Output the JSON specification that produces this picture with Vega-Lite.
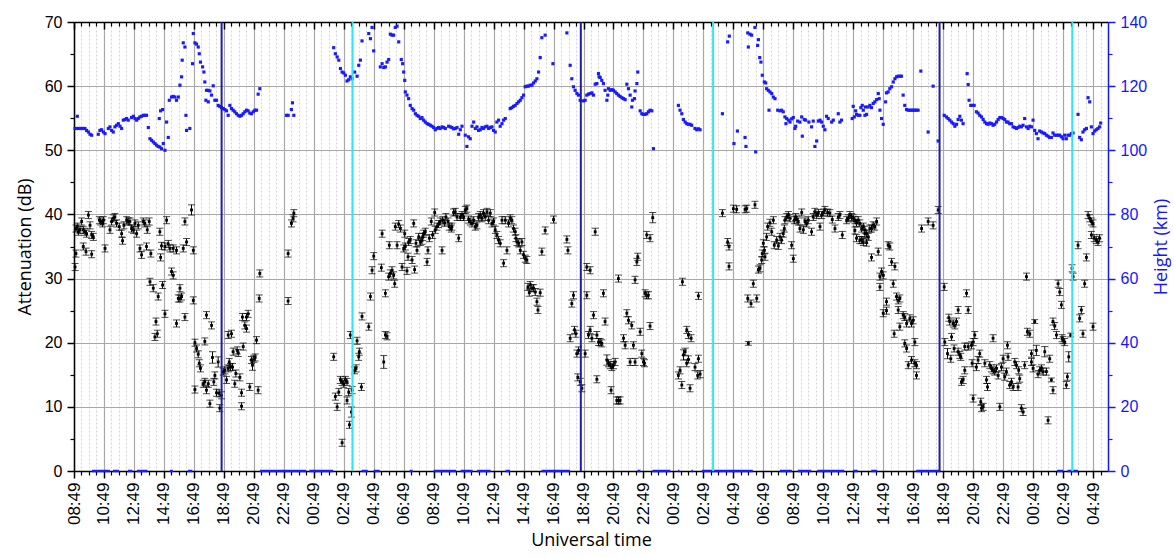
{
  "$schema": "https://vega.github.io/schema/vega-lite/v6.json",
  "width": 1034,
  "height": 449,
  "autosize": {"type": "none"},
  "padding": {"left": 74, "top": 22, "right": 66, "bottom": 87},
  "background": "white",
  "config": {"view": {"stroke": null}},
  "datasets": {
    "height": [
      {"t":0.07,"h":106.8},{"t":0.18,"h":106.8},{"t":0.22,"h":110.6},{"t":0.29,"h":106.8},{"t":0.4,"h":106.8},{"t":0.51,"h":106.8},{"t":0.62,"h":106.8},{"t":0.73,"h":106.8},{"t":0.84,"h":106.2},{"t":0.96,"h":105.7},{"t":1.07,"h":105.0},{"t":1.18,"h":104.7},{"t":1.62,"h":105.0},{"t":1.73,"h":106.2},{"t":1.84,"h":106.4},{"t":1.96,"h":105.7},{"t":2.07,"h":105.2},{"t":2.29,"h":106.8},{"t":2.4,"h":107.3},{"t":2.51,"h":106.2},{"t":2.62,"h":105.7},{"t":2.73,"h":107.3},{"t":2.84,"h":107.8},{"t":2.96,"h":108.3},{"t":3.07,"h":107.5},{"t":3.18,"h":106.8},{"t":3.29,"h":109.4},{"t":3.4,"h":109.6},{"t":3.51,"h":109.9},{"t":3.62,"h":109.4},{"t":3.84,"h":110.2},{"t":3.96,"h":110.6},{"t":4.07,"h":109.9},{"t":4.18,"h":109.4},{"t":4.29,"h":109.9},{"t":4.4,"h":110.4},{"t":4.51,"h":110.6},{"t":4.62,"h":110.9},{"t":4.73,"h":110.9},{"t":4.84,"h":110.9},{"t":4.96,"h":107.1},{"t":5.07,"h":103.6},{"t":5.18,"h":103.1},{"t":5.29,"h":102.6},{"t":5.4,"h":102.1},{"t":5.51,"h":101.6},{"t":5.62,"h":101.2},{"t":5.73,"h":101.0},{"t":5.84,"h":100.5},{"t":5.96,"h":102.1},{"t":6.07,"h":100.0},{"t":6.29,"h":104.0},{"t":5.69,"h":109.9},{"t":5.78,"h":112.3},{"t":5.91,"h":112.7},{"t":6.18,"h":108.8},{"t":6.36,"h":115.6},{"t":6.51,"h":116.6},{"t":6.62,"h":116.8},{"t":6.73,"h":116.6},{"t":6.84,"h":115.6},{"t":6.96,"h":116.6},{"t":7.07,"h":120.3},{"t":7.18,"h":122.9},{"t":7.22,"h":128.1},{"t":7.29,"h":133.5},{"t":7.4,"h":132.2},{"t":7.47,"h":110.9},{"t":7.51,"h":106.2},{"t":7.73,"h":106.8},{"t":7.91,"h":127.0},{"t":7.96,"h":136.4},{"t":8.07,"h":133.5},{"t":8.18,"h":133.1},{"t":8.29,"h":132.2},{"t":8.36,"h":130.1},{"t":8.44,"h":127.5},{"t":8.58,"h":126.0},{"t":8.67,"h":124.4},{"t":8.73,"h":121.3},{"t":8.84,"h":118.7},{"t":8.96,"h":118.7},{"t":9.07,"h":118.5},{"t":9.18,"h":117.2},{"t":9.29,"h":120.1},{"t":8.8,"h":115.6},{"t":8.96,"h":115.1},{"t":9.4,"h":115.6},{"t":9.51,"h":115.6},{"t":9.62,"h":114.0},{"t":9.73,"h":113.7},{"t":9.84,"h":113.3},{"t":9.96,"h":113.0},{"t":10.07,"h":112.7},{"t":10.18,"h":112.3},{"t":10.29,"h":110.9},{"t":10.4,"h":114.0},{"t":10.51,"h":113.0},{"t":10.62,"h":112.5},{"t":10.73,"h":112.0},{"t":10.84,"h":111.4},{"t":10.96,"h":110.9},{"t":11.07,"h":110.6},{"t":11.18,"h":110.9},{"t":11.29,"h":111.4},{"t":11.4,"h":112.0},{"t":11.51,"h":112.5},{"t":11.62,"h":112.3},{"t":11.73,"h":111.6},{"t":11.84,"h":111.4},{"t":11.96,"h":112.0},{"t":12.07,"h":112.5},{"t":12.18,"h":112.5},{"t":12.29,"h":117.5},{"t":12.4,"h":119.2},{"t":14.18,"h":110.9},{"t":14.29,"h":110.9},{"t":14.51,"h":112.7},{"t":14.58,"h":114.8},{"t":14.67,"h":110.9},
      {"t":17.33,"h":132.0},{"t":17.44,"h":130.1},{"t":17.56,"h":129.1},{"t":17.67,"h":128.1},{"t":17.78,"h":125.5},{"t":17.89,"h":124.4},{"t":18.0,"h":124.1},{"t":18.11,"h":123.4},{"t":18.22,"h":121.6},{"t":18.33,"h":122.0},{"t":18.44,"h":122.9},{"t":18.56,"h":122.3},{"t":18.73,"h":124.4},{"t":18.89,"h":123.1},{"t":19.0,"h":126.5},{"t":19.11,"h":128.1},{"t":19.22,"h":134.1},{"t":19.67,"h":136.4},{"t":19.78,"h":134.8},{"t":19.89,"h":138.3},{"t":20.0,"h":131.0},{"t":20.44,"h":126.0},{"t":20.56,"h":127.0},{"t":20.67,"h":125.8},{"t":20.78,"h":126.0},{"t":20.89,"h":127.5},{"t":21.0,"h":128.3},{"t":21.11,"h":136.2},{"t":21.22,"h":135.9},{"t":21.33,"h":135.9},{"t":21.44,"h":138.3},{"t":21.56,"h":138.7},{"t":21.67,"h":133.8},{"t":21.84,"h":128.3},{"t":21.93,"h":127.0},{"t":22.0,"h":124.4},{"t":22.07,"h":121.8},{"t":22.11,"h":118.2},{"t":22.22,"h":117.2},{"t":22.33,"h":116.1},{"t":22.44,"h":114.0},{"t":22.56,"h":113.0},{"t":22.67,"h":112.5},{"t":22.78,"h":111.4},{"t":22.89,"h":110.9},{"t":23.0,"h":110.6},{"t":23.11,"h":109.9},{"t":23.22,"h":110.2},{"t":23.33,"h":109.4},{"t":23.44,"h":108.8},{"t":23.56,"h":108.3},{"t":23.67,"h":108.1},{"t":23.78,"h":107.8},{"t":23.89,"h":107.5},{"t":24.0,"h":107.1},{"t":24.11,"h":106.4},{"t":24.22,"h":106.8},{"t":24.33,"h":107.1},{"t":24.44,"h":106.8},{"t":24.56,"h":107.3},{"t":24.67,"h":107.1},{"t":24.78,"h":106.8},{"t":25.0,"h":107.5},{"t":25.11,"h":107.3},{"t":25.22,"h":107.1},{"t":25.33,"h":106.7},{"t":25.44,"h":106.8},{"t":25.56,"h":107.1},{"t":25.67,"h":105.0},{"t":25.78,"h":106.4},{"t":25.89,"h":107.5},{"t":26.11,"h":104.7},{"t":26.22,"h":101.2},{"t":26.33,"h":104.2},{"t":26.44,"h":103.6},{"t":26.56,"h":107.5},{"t":26.67,"h":108.8},{"t":26.78,"h":106.8},{"t":26.89,"h":107.3},{"t":27.0,"h":106.2},{"t":27.11,"h":106.4},{"t":27.22,"h":107.1},{"t":27.33,"h":106.8},{"t":27.44,"h":107.3},{"t":27.56,"h":107.5},{"t":27.67,"h":106.8},{"t":27.78,"h":107.1},{"t":27.89,"h":107.3},{"t":28.0,"h":106.2},{"t":28.11,"h":105.7},{"t":28.22,"h":108.8},{"t":28.33,"h":109.4},{"t":28.44,"h":107.5},{"t":28.56,"h":108.3},{"t":28.67,"h":109.4},{"t":28.78,"h":109.9},{"t":29.11,"h":113.0},{"t":29.22,"h":113.3},{"t":29.33,"h":113.7},{"t":29.44,"h":114.0},{"t":29.56,"h":114.6},{"t":29.67,"h":115.1},{"t":29.78,"h":115.6},{"t":29.89,"h":116.4},{"t":30.0,"h":117.2},{"t":30.11,"h":119.8},{"t":30.22,"h":120.0},{"t":30.33,"h":120.0},{"t":30.44,"h":120.3},{"t":30.56,"h":120.3},{"t":30.67,"h":121.0},{"t":30.78,"h":121.6},{"t":30.89,"h":122.3},{"t":31.0,"h":124.4},{"t":31.11,"h":128.9},{"t":31.22,"h":135.1},{"t":31.44,"h":135.9},{"t":31.96,"h":127.0},{"t":32.89,"h":136.6},{"t":33.11,"h":126.5},{"t":33.22,"h":122.3},{"t":33.33,"h":119.8},{"t":33.44,"h":118.7},{"t":33.56,"h":117.7},{"t":33.67,"h":117.2},{"t":33.78,"h":115.6},{"t":34.0,"h":115.4},{"t":34.22,"h":117.2},
      {"t":34.11,"h":115.6},{"t":34.33,"h":117.5},{"t":34.44,"h":117.7},{"t":34.56,"h":117.9},{"t":34.67,"h":117.2},{"t":34.78,"h":120.6},{"t":34.89,"h":120.8},{"t":35.0,"h":123.9},{"t":35.04,"h":122.9},{"t":35.11,"h":122.7},{"t":35.22,"h":121.8},{"t":35.33,"h":120.8},{"t":35.44,"h":118.7},{"t":35.56,"h":115.6},{"t":35.62,"h":117.2},{"t":35.67,"h":119.2},{"t":35.78,"h":118.7},{"t":35.89,"h":118.9},{"t":36.0,"h":118.7},{"t":36.11,"h":118.2},{"t":36.22,"h":117.7},{"t":36.33,"h":117.2},{"t":36.44,"h":116.8},{"t":36.56,"h":116.4},{"t":36.67,"h":116.1},{"t":36.78,"h":115.8},{"t":36.89,"h":120.6},{"t":37.0,"h":119.2},{"t":37.11,"h":117.2},{"t":37.22,"h":113.5},{"t":37.27,"h":115.6},{"t":37.4,"h":116.1},{"t":37.44,"h":118.5},{"t":37.56,"h":120.8},{"t":37.62,"h":124.4},{"t":37.78,"h":112.3},{"t":37.89,"h":111.4},{"t":38.0,"h":111.2},{"t":38.11,"h":111.2},{"t":38.22,"h":111.4},{"t":38.33,"h":112.0},{"t":38.44,"h":112.5},{"t":38.56,"h":112.3},{"t":38.67,"h":100.5},{"t":40.33,"h":114.0},{"t":40.44,"h":112.5},{"t":40.56,"h":111.4},{"t":40.67,"h":109.6},{"t":40.78,"h":108.8},{"t":40.89,"h":108.3},{"t":41.0,"h":108.1},{"t":41.11,"h":108.1},{"t":41.22,"h":107.8},{"t":41.44,"h":106.8},{"t":41.56,"h":106.4},{"t":41.67,"h":106.7},{"t":41.78,"h":106.4},{"t":43.27,"h":111.4},{"t":43.62,"h":133.8},{"t":43.73,"h":135.6},{"t":44.04,"h":102.1},{"t":44.27,"h":106.0},{"t":44.78,"h":104.0},{"t":44.84,"h":101.2},{"t":44.96,"h":136.6},{"t":45.0,"h":132.2},{"t":45.11,"h":136.2},{"t":45.22,"h":135.9},{"t":45.44,"h":138.3},{"t":45.49,"h":99.5},{"t":45.62,"h":132.7},{"t":45.67,"h":134.5},{"t":45.76,"h":128.9},{"t":45.84,"h":127.5},{"t":45.93,"h":123.4},{"t":46.07,"h":121.3},{"t":46.16,"h":121.0},{"t":46.22,"h":119.2},{"t":46.33,"h":118.7},{"t":46.44,"h":118.2},{"t":46.56,"h":117.7},{"t":46.67,"h":116.6},{"t":46.78,"h":116.1},{"t":46.38,"h":112.5},{"t":46.96,"h":112.5},{"t":47.11,"h":112.3},{"t":47.22,"h":112.5},{"t":47.33,"h":112.0},{"t":47.44,"h":110.4},{"t":47.51,"h":108.3},{"t":47.56,"h":109.9},{"t":47.67,"h":109.4},{"t":47.78,"h":108.8},{"t":47.89,"h":109.8},{"t":48.0,"h":110.2},{"t":48.11,"h":106.8},{"t":48.16,"h":107.5},{"t":48.29,"h":109.1},{"t":48.44,"h":108.8},{"t":48.56,"h":110.4},{"t":48.6,"h":104.4},{"t":48.73,"h":109.6},{"t":48.82,"h":109.4},{"t":49.04,"h":108.8},{"t":49.22,"h":107.3},{"t":49.33,"h":109.1},{"t":49.44,"h":101.2},{"t":49.56,"h":102.9},{"t":49.67,"h":109.1},{"t":49.78,"h":109.4},{"t":49.89,"h":108.8},{"t":50.0,"h":107.5},{"t":50.11,"h":106.4},{"t":50.22,"h":110.6},{"t":50.33,"h":109.9},{"t":50.56,"h":108.8},{"t":50.67,"h":109.4},{"t":51.0,"h":111.4},{"t":51.11,"h":108.8},{"t":51.22,"h":109.4},
      {"t":51.93,"h":109.9},{"t":52.0,"h":113.7},{"t":52.07,"h":110.4},{"t":52.16,"h":112.3},{"t":52.22,"h":111.2},{"t":52.33,"h":110.9},{"t":52.44,"h":110.9},{"t":52.51,"h":113.3},{"t":52.6,"h":114.0},{"t":52.67,"h":112.5},{"t":52.78,"h":110.9},{"t":52.82,"h":113.5},{"t":52.89,"h":111.2},{"t":53.0,"h":113.5},{"t":53.11,"h":114.0},{"t":53.22,"h":113.3},{"t":53.33,"h":114.6},{"t":53.44,"h":115.1},{"t":53.56,"h":115.8},{"t":53.67,"h":117.7},{"t":53.73,"h":116.1},{"t":53.78,"h":112.5},{"t":53.89,"h":109.9},{"t":54.0,"h":108.1},{"t":54.16,"h":115.1},{"t":54.22,"h":117.9},{"t":54.33,"h":118.2},{"t":54.44,"h":119.2},{"t":54.56,"h":119.8},{"t":54.67,"h":121.3},{"t":54.78,"h":122.3},{"t":54.89,"h":122.9},{"t":55.0,"h":123.1},{"t":55.11,"h":123.1},{"t":55.22,"h":123.1},{"t":55.33,"h":117.2},{"t":55.44,"h":114.0},{"t":55.56,"h":112.7},{"t":55.67,"h":112.5},{"t":55.78,"h":112.5},{"t":55.89,"h":112.5},{"t":56.0,"h":112.5},{"t":56.11,"h":112.5},{"t":56.22,"h":112.5},{"t":56.33,"h":112.5},{"t":56.51,"h":124.7},{"t":57.0,"h":105.7},{"t":57.33,"h":120.0},{"t":57.67,"h":102.9},{"t":58.07,"h":110.9},{"t":58.22,"h":110.4},{"t":58.33,"h":109.9},{"t":58.44,"h":109.4},{"t":58.56,"h":108.8},{"t":58.67,"h":108.3},{"t":58.78,"h":107.5},{"t":58.89,"h":108.1},{"t":59.0,"h":109.6},{"t":59.11,"h":110.6},{"t":59.22,"h":109.4},{"t":59.33,"h":108.3},{"t":59.6,"h":123.9},{"t":59.67,"h":120.5},{"t":59.73,"h":115.6},{"t":59.84,"h":114.0},{"t":59.93,"h":114.0},{"t":60.07,"h":114.0},{"t":60.22,"h":112.0},{"t":60.33,"h":111.6},{"t":60.44,"h":110.9},{"t":60.56,"h":110.4},{"t":60.67,"h":109.6},{"t":60.78,"h":108.8},{"t":60.89,"h":108.3},{"t":61.0,"h":108.1},{"t":61.11,"h":108.5},{"t":61.22,"h":108.3},{"t":61.33,"h":107.8},{"t":61.44,"h":108.1},{"t":61.56,"h":108.8},{"t":61.67,"h":109.6},{"t":61.78,"h":110.2},{"t":61.89,"h":110.2},{"t":62.0,"h":109.9},{"t":62.11,"h":109.6},{"t":62.22,"h":108.8},{"t":62.33,"h":108.8},{"t":62.44,"h":108.3},{"t":62.56,"h":108.3},{"t":62.67,"h":107.3},{"t":62.78,"h":107.1},{"t":62.89,"h":106.8},{"t":63.0,"h":107.1},{"t":63.11,"h":107.5},{"t":63.22,"h":107.3},{"t":63.33,"h":107.8},{"t":63.44,"h":109.9},{"t":63.56,"h":107.3},{"t":63.67,"h":106.8},{"t":63.78,"h":107.5},{"t":63.89,"h":107.3},{"t":64.0,"h":109.4},{"t":64.11,"h":106.2},{"t":64.22,"h":105.2},{"t":64.33,"h":103.6},{"t":64.44,"h":106.0},{"t":64.56,"h":105.7},{"t":64.67,"h":105.4},{"t":64.78,"h":105.2},{"t":64.89,"h":104.7},{"t":65.0,"h":104.4},{"t":65.11,"h":104.0},{"t":65.22,"h":104.0},{"t":65.33,"h":105.4},{"t":65.44,"h":104.7},{"t":65.56,"h":104.7},{"t":65.67,"h":104.7},{"t":65.78,"h":104.7},{"t":65.89,"h":104.2},{"t":66.0,"h":103.6},{"t":66.11,"h":104.7},{"t":66.22,"h":103.6},{"t":66.33,"h":104.7},{"t":66.44,"h":104.7},{"t":66.56,"h":105.2},{"t":66.67,"h":105.4},{"t":67.0,"h":111.2},{"t":67.11,"h":104.0},{"t":67.22,"h":103.3},{"t":67.33,"h":105.7},{"t":67.44,"h":106.4},{"t":67.56,"h":106.8},{"t":67.67,"h":116.4},{"t":67.78,"h":115.1},{"t":67.89,"h":107.3},{"t":68.0,"h":105.2},{"t":68.11,"h":106.0},{"t":68.22,"h":106.4},{"t":68.33,"h":106.8},{"t":68.44,"h":107.3},{"t":68.51,"h":108.5}
    ],
    "noEcho": [
      {"t0":1.2,"t1":2.4,"h":0},{"t0":2.6,"t1":3.0,"h":0},{"t0":3.6,"t1":3.9,"h":0},{"t0":4.2,"t1":4.9,"h":0},{"t0":6.4,"t1":6.6,"h":0},{"t0":7.6,"t1":7.9,"h":0},{"t0":12.4,"t1":15.5,"h":0},{"t0":15.7,"t1":17.3,"h":0},{"t0":19.2,"t1":19.6,"h":0},{"t0":20.0,"t1":20.4,"h":0},{"t0":22.4,"t1":22.6,"h":0},{"t0":24.0,"t1":25.5,"h":0},{"t0":25.8,"t1":26.6,"h":0},{"t0":26.9,"t1":27.8,"h":0},{"t0":28.8,"t1":29.1,"h":0},{"t0":31.2,"t1":33.1,"h":0},{"t0":37.6,"t1":37.8,"h":0},{"t0":38.6,"t1":39.8,"h":0},{"t0":40.3,"t1":40.4,"h":0},{"t0":41.2,"t1":41.3,"h":0},{"t0":41.9,"t1":45.3,"h":0},{"t0":47.1,"t1":47.9,"h":0},{"t0":48.3,"t1":49.2,"h":0},{"t0":49.6,"t1":51.4,"h":0},{"t0":52.0,"t1":52.3,"h":0},{"t0":53.2,"t1":53.6,"h":0},{"t0":56.2,"t1":57.8,"h":0},{"t0":65.6,"t1":66.0,"h":0},{"t0":66.3,"t1":67.0,"h":0}
    ],
    "marks": [
      {"t":9.85,"kind":"dark"},{"t":33.82,"kind":"dark"},{"t":57.76,"kind":"dark"},
      {"t":18.59,"kind":"light"},{"t":42.65,"kind":"light"},{"t":66.62,"kind":"light"}
    ],
    "atten": [
      {"t":0.13,"a":37.8,"e":0.55},{"t":0.22,"a":38.1,"e":0.55},{"t":0.29,"a":37.3,"e":0.55},{"t":0.4,"a":37.6,"e":0.55},{"t":0.51,"a":38.9,"e":0.55},{"t":0.62,"a":37.6,"e":0.55},{"t":0.73,"a":37.3,"e":0.55},{"t":0.84,"a":37.0,"e":0.55},{"t":0.96,"a":39.9,"e":0.55},{"t":1.07,"a":38.3,"e":0.55},{"t":1.18,"a":36.8,"e":0.55},{"t":1.29,"a":36.5,"e":0.55},{"t":0.13,"a":33.9,"e":0.55},{"t":0.62,"a":35.0,"e":0.55},{"t":0.8,"a":34.2,"e":0.55},{"t":1.18,"a":33.8,"e":0.55},{"t":2.07,"a":34.7,"e":0.55},{"t":0.07,"a":31.8,"e":0.55},{"t":1.69,"a":39.1,"e":0.55},{"t":1.78,"a":38.9,"e":0.55},{"t":1.91,"a":38.6,"e":0.55},{"t":1.96,"a":39.1,"e":0.55},{"t":2.4,"a":37.6,"e":0.55},{"t":2.51,"a":38.9,"e":0.55},{"t":2.62,"a":39.4,"e":0.55},{"t":2.73,"a":39.6,"e":0.55},{"t":2.84,"a":38.6,"e":0.55},{"t":3.02,"a":38.1,"e":0.55},{"t":3.18,"a":37.0,"e":0.55},{"t":3.24,"a":35.9,"e":0.55},{"t":3.33,"a":38.3,"e":0.55},{"t":3.51,"a":39.1,"e":0.55},{"t":3.62,"a":38.9,"e":0.55},{"t":3.73,"a":38.9,"e":0.55},{"t":3.84,"a":37.8,"e":0.55},{"t":3.96,"a":37.6,"e":0.55},{"t":4.07,"a":38.6,"e":0.55},{"t":4.18,"a":37.0,"e":0.55},{"t":4.29,"a":38.3,"e":0.55},{"t":4.4,"a":34.7,"e":0.55},{"t":4.51,"a":33.7,"e":0.55},{"t":4.62,"a":38.9,"e":0.55},{"t":4.73,"a":38.6,"e":0.55},{"t":4.89,"a":37.6,"e":0.55},{"t":5.02,"a":38.9,"e":0.55},{"t":5.13,"a":33.9,"e":0.55},{"t":4.84,"a":35.0,"e":0.55},{"t":5.73,"a":37.3,"e":0.55},{"t":5.78,"a":33.3,"e":0.55},{"t":5.84,"a":35.1,"e":0.55},{"t":6.07,"a":35.0,"e":0.55},{"t":6.18,"a":39.1,"e":0.55},{"t":6.29,"a":35.4,"e":0.55},{"t":6.4,"a":34.7,"e":0.55},{"t":6.62,"a":34.7,"e":0.55},{"t":6.84,"a":34.4,"e":0.55},{"t":7.29,"a":34.7,"e":0.55},{"t":7.51,"a":35.7,"e":0.55},{"t":7.4,"a":38.9,"e":0.55},{"t":7.84,"a":40.7,"e":0.8},{"t":7.96,"a":34.4,"e":0.55},{"t":6.51,"a":31.1,"e":0.55},{"t":6.62,"a":30.5,"e":0.55},{"t":5.07,"a":29.5,"e":0.55},{"t":5.29,"a":28.5,"e":0.55},{"t":5.62,"a":27.2,"e":0.55},{"t":5.91,"a":29.0,"e":0.55},{"t":5.47,"a":23.3,"e":0.55},{"t":5.56,"a":21.4,"e":0.55},{"t":5.4,"a":20.9,"e":0.55},{"t":6.07,"a":24.5,"e":0.55},{"t":6.84,"a":23.0,"e":0.55},{"t":6.96,"a":26.9,"e":0.55},{"t":7.07,"a":26.9,"e":0.55},{"t":7.18,"a":27.2,"e":0.55},{"t":7.07,"a":28.5,"e":0.55},{"t":7.4,"a":24.0,"e":0.55},{"t":7.96,"a":26.6,"e":0.55},{"t":8.07,"a":20.0,"e":0.55},{"t":8.18,"a":19.1,"e":0.55},{"t":8.29,"a":18.2,"e":0.55},{"t":8.36,"a":16.8,"e":0.55},{"t":8.44,"a":16.0,"e":0.55},{"t":8.62,"a":13.6,"e":0.55},{"t":8.73,"a":13.9,"e":0.55},{"t":8.84,"a":12.6,"e":0.55},{"t":8.96,"a":13.6,"e":0.55},{"t":9.07,"a":10.5,"e":0.55},{"t":8.07,"a":12.7,"e":0.55},{"t":8.73,"a":20.2,"e":0.55},{"t":8.84,"a":24.3,"e":0.55},{"t":9.18,"a":22.7,"e":0.55},{"t":9.24,"a":17.7,"e":0.9},{"t":9.4,"a":14.9,"e":0.55},{"t":9.33,"a":13.9,"e":0.55},{"t":9.51,"a":12.2,"e":0.55},{"t":9.62,"a":17.0,"e":0.8},{"t":9.69,"a":12.1,"e":0.55},{"t":9.73,"a":9.8,"e":0.55},{"t":9.84,"a":11.8,"e":0.55},{"t":9.96,"a":15.5,"e":0.55},{"t":10.07,"a":15.7,"e":0.55},{"t":10.18,"a":14.2,"e":0.55},{"t":10.29,"a":16.0,"e":0.55},{"t":10.36,"a":17.0,"e":0.55},{"t":10.44,"a":16.2,"e":0.55},{"t":10.58,"a":16.2,"e":0.55},{"t":10.62,"a":18.6,"e":0.55},{"t":10.73,"a":13.6,"e":0.55},{"t":10.8,"a":15.2,"e":0.55},{"t":10.89,"a":18.8,"e":0.55},{"t":10.96,"a":18.4,"e":0.55},{"t":11.07,"a":14.6,"e":0.55},{"t":11.18,"a":12.2,"e":0.55},{"t":11.18,"a":10.1,"e":0.55},{"t":11.29,"a":19.4,"e":0.55},{"t":11.4,"a":22.7,"e":0.55},{"t":11.51,"a":22.2,"e":0.55},{"t":11.51,"a":24.0,"e":0.55},{"t":11.62,"a":24.5,"e":0.55},{"t":11.24,"a":24.0,"e":0.55},{"t":10.29,"a":21.2,"e":0.55},{"t":10.51,"a":21.4,"e":0.55},{"t":11.73,"a":13.1,"e":0.55},{"t":11.84,"a":17.3,"e":0.55},{"t":11.91,"a":16.5,"e":0.8},{"t":12.0,"a":17.5,"e":0.55},{"t":12.09,"a":17.7,"e":0.55},{"t":12.18,"a":20.4,"e":0.55},{"t":12.29,"a":12.6,"e":0.55},{"t":12.36,"a":26.9,"e":0.55},{"t":12.4,"a":30.8,"e":0.55},{"t":14.29,"a":33.9,"e":0.55},{"t":14.29,"a":26.5,"e":0.55},{"t":14.51,"a":38.6,"e":0.55},{"t":14.62,"a":39.4,"e":0.55},{"t":14.67,"a":40.2,"e":0.55},
      {"t":17.33,"a":17.8,"e":0.55},{"t":17.44,"a":11.6,"e":0.55},{"t":17.56,"a":10.0,"e":0.55},{"t":17.67,"a":12.3,"e":0.55},{"t":17.78,"a":14.2,"e":0.55},{"t":17.89,"a":13.9,"e":0.55},{"t":18.0,"a":13.6,"e":0.55},{"t":18.11,"a":14.2,"e":0.55},{"t":18.22,"a":13.9,"e":0.55},{"t":18.33,"a":12.3,"e":0.55},{"t":18.22,"a":11.0,"e":0.55},{"t":17.89,"a":4.4,"e":0.55},{"t":18.38,"a":7.2,"e":0.55},{"t":18.51,"a":9.2,"e":0.8},{"t":18.56,"a":12.6,"e":0.55},{"t":18.44,"a":21.2,"e":0.55},{"t":18.73,"a":15.7,"e":0.55},{"t":18.82,"a":16.0,"e":0.55},{"t":18.89,"a":20.3,"e":0.55},{"t":19.0,"a":17.8,"e":0.55},{"t":19.04,"a":18.6,"e":0.55},{"t":19.18,"a":13.1,"e":0.55},{"t":19.22,"a":24.1,"e":0.55},{"t":19.67,"a":22.5,"e":0.55},{"t":19.78,"a":27.2,"e":0.55},{"t":19.89,"a":31.3,"e":0.55},{"t":20.0,"a":33.5,"e":0.55},{"t":20.51,"a":31.7,"e":0.55},{"t":20.56,"a":37.0,"e":0.55},{"t":20.67,"a":17.0,"e":1.0},{"t":20.78,"a":27.7,"e":0.55},{"t":20.89,"a":21.0,"e":0.55},{"t":20.78,"a":21.2,"e":0.55},{"t":21.0,"a":30.3,"e":0.55},{"t":21.04,"a":35.2,"e":0.55},{"t":21.11,"a":30.8,"e":0.55},{"t":21.22,"a":31.3,"e":0.55},{"t":21.33,"a":30.5,"e":0.55},{"t":21.4,"a":29.2,"e":0.55},{"t":21.44,"a":38.1,"e":0.55},{"t":21.56,"a":35.2,"e":0.55},{"t":21.67,"a":38.5,"e":0.55},{"t":21.78,"a":37.8,"e":0.55},{"t":21.89,"a":31.8,"e":0.55},{"t":22.0,"a":34.7,"e":0.55},{"t":22.07,"a":37.0,"e":0.55},{"t":22.11,"a":35.0,"e":0.55},{"t":22.22,"a":31.2,"e":0.55},{"t":22.29,"a":33.4,"e":0.55},{"t":22.33,"a":35.7,"e":0.55},{"t":22.44,"a":36.0,"e":0.55},{"t":22.56,"a":32.9,"e":0.55},{"t":22.67,"a":38.6,"e":0.55},{"t":22.73,"a":31.4,"e":0.55},{"t":22.82,"a":35.5,"e":0.55},{"t":22.89,"a":34.4,"e":0.55},{"t":23.0,"a":36.5,"e":0.55},{"t":23.11,"a":35.7,"e":0.55},{"t":23.22,"a":35.9,"e":0.55},{"t":23.27,"a":36.5,"e":0.55},{"t":23.33,"a":37.0,"e":0.55},{"t":23.44,"a":37.3,"e":0.55},{"t":23.56,"a":32.6,"e":0.55},{"t":23.62,"a":34.4,"e":0.55},{"t":23.71,"a":36.3,"e":0.55},{"t":23.84,"a":38.9,"e":0.55},{"t":23.93,"a":36.8,"e":0.55},{"t":24.07,"a":40.3,"e":0.55},{"t":24.11,"a":37.6,"e":0.55},{"t":24.22,"a":38.1,"e":0.55},{"t":24.33,"a":38.5,"e":0.55},{"t":24.44,"a":38.9,"e":0.55},{"t":24.56,"a":34.4,"e":0.55},{"t":24.6,"a":39.1,"e":0.55},{"t":24.73,"a":38.7,"e":0.55},{"t":24.82,"a":39.6,"e":0.55},{"t":24.96,"a":38.9,"e":0.55},{"t":25.04,"a":38.1,"e":0.55},{"t":25.18,"a":37.8,"e":0.55},{"t":25.22,"a":38.1,"e":0.55},{"t":25.33,"a":40.3,"e":0.55},{"t":25.44,"a":40.4,"e":0.55},{"t":25.56,"a":39.6,"e":0.55},{"t":25.67,"a":36.3,"e":0.55},{"t":25.78,"a":39.6,"e":0.55},{"t":25.89,"a":39.9,"e":0.55},{"t":26.0,"a":39.6,"e":0.55},{"t":26.11,"a":40.7,"e":0.55},{"t":26.22,"a":40.9,"e":0.55},{"t":26.33,"a":39.2,"e":0.55},{"t":26.44,"a":38.9,"e":0.55},{"t":26.56,"a":38.6,"e":0.55},{"t":26.67,"a":39.1,"e":0.55},{"t":26.78,"a":38.1,"e":0.55},{"t":26.89,"a":38.3,"e":0.55},{"t":27.0,"a":39.6,"e":0.55},{"t":27.11,"a":39.9,"e":0.55},{"t":27.22,"a":39.4,"e":0.55},{"t":27.33,"a":40.2,"e":0.55},{"t":27.44,"a":39.6,"e":0.55},{"t":27.56,"a":40.4,"e":0.55},{"t":27.67,"a":39.1,"e":0.55},{"t":27.78,"a":40.2,"e":0.55},{"t":27.89,"a":38.6,"e":0.55},{"t":28.0,"a":38.9,"e":0.55},{"t":28.11,"a":37.6,"e":0.55},{"t":28.22,"a":36.8,"e":0.55},{"t":28.33,"a":36.0,"e":0.55},{"t":28.44,"a":35.5,"e":0.55},{"t":28.56,"a":39.1,"e":0.55},{"t":28.67,"a":32.4,"e":0.55},{"t":28.78,"a":39.1,"e":0.55},{"t":28.89,"a":34.4,"e":0.55},{"t":29.0,"a":38.6,"e":0.55},{"t":29.11,"a":39.4,"e":0.55},{"t":29.22,"a":39.1,"e":0.55},{"t":29.33,"a":37.8,"e":0.55},{"t":29.44,"a":37.3,"e":0.55},{"t":29.49,"a":36.3,"e":0.55},{"t":29.56,"a":35.7,"e":0.55},{"t":29.67,"a":35.5,"e":0.55},{"t":29.78,"a":34.4,"e":0.55},{"t":29.89,"a":35.7,"e":0.55},{"t":30.0,"a":33.7,"e":0.55},{"t":30.11,"a":33.1,"e":0.55},{"t":30.22,"a":32.9,"e":0.55},{"t":30.29,"a":28.7,"e":0.55},{"t":30.38,"a":27.8,"e":0.55},{"t":30.44,"a":29.0,"e":0.55},{"t":30.56,"a":28.5,"e":0.55},{"t":30.67,"a":28.5,"e":0.55},{"t":30.78,"a":27.9,"e":0.55},{"t":30.89,"a":26.4,"e":0.55},{"t":30.96,"a":25.1,"e":0.55},{"t":31.11,"a":27.8,"e":0.55},{"t":31.22,"a":34.2,"e":0.55},{"t":31.44,"a":37.5,"e":0.55},{"t":32.0,"a":39.2,"e":0.55},{"t":32.89,"a":36.1,"e":0.55},{"t":32.96,"a":34.4,"e":0.55},{"t":33.11,"a":20.7,"e":0.55},{"t":33.22,"a":26.1,"e":0.55},{"t":33.33,"a":27.4,"e":0.55},{"t":33.4,"a":22.0,"e":0.55},{"t":33.49,"a":21.4,"e":0.55},{"t":33.56,"a":18.3,"e":0.55},{"t":33.67,"a":18.8,"e":0.55},{"t":33.62,"a":14.6,"e":0.55},{"t":33.78,"a":13.9,"e":0.55},{"t":33.89,"a":12.9,"e":0.55},{"t":34.11,"a":18.3,"e":0.55},{"t":34.22,"a":31.8,"e":0.55},{"t":34.22,"a":27.4,"e":0.55},
      {"t":34.44,"a":31.3,"e":0.55},{"t":34.78,"a":37.3,"e":0.55},{"t":34.67,"a":24.3,"e":0.55},{"t":34.44,"a":22.0,"e":0.55},{"t":34.33,"a":21.2,"e":0.55},{"t":34.56,"a":20.7,"e":0.55},{"t":34.89,"a":21.2,"e":0.55},{"t":35.0,"a":20.1,"e":0.55},{"t":35.11,"a":20.1,"e":0.55},{"t":35.22,"a":19.9,"e":0.55},{"t":35.33,"a":27.7,"e":0.55},{"t":35.44,"a":23.3,"e":0.55},{"t":35.56,"a":17.3,"e":0.8},{"t":35.67,"a":16.8,"e":0.55},{"t":35.78,"a":16.5,"e":0.55},{"t":35.89,"a":16.2,"e":0.55},{"t":36.0,"a":16.5,"e":0.55},{"t":36.11,"a":17.0,"e":0.55},{"t":35.84,"a":12.6,"e":0.55},{"t":36.22,"a":11.0,"e":0.55},{"t":36.33,"a":11.0,"e":0.55},{"t":36.44,"a":11.0,"e":0.55},{"t":34.89,"a":14.3,"e":0.55},{"t":36.33,"a":30.0,"e":0.55},{"t":36.67,"a":20.7,"e":0.55},{"t":36.78,"a":19.6,"e":0.55},{"t":36.89,"a":24.6,"e":0.55},{"t":37.0,"a":23.5,"e":0.55},{"t":37.22,"a":22.7,"e":0.55},{"t":37.33,"a":19.6,"e":0.55},{"t":37.44,"a":17.0,"e":0.55},{"t":37.11,"a":17.0,"e":0.55},{"t":37.44,"a":29.8,"e":0.55},{"t":37.56,"a":32.6,"e":0.55},{"t":37.62,"a":33.4,"e":0.55},{"t":37.78,"a":21.7,"e":0.55},{"t":37.89,"a":18.3,"e":0.55},{"t":38.0,"a":17.0,"e":0.55},{"t":38.07,"a":16.8,"e":0.55},{"t":38.11,"a":27.7,"e":0.55},{"t":38.22,"a":27.4,"e":0.55},{"t":38.33,"a":27.4,"e":0.55},{"t":38.44,"a":22.6,"e":0.55},{"t":38.22,"a":36.8,"e":0.55},{"t":38.44,"a":36.3,"e":0.55},{"t":38.62,"a":39.5,"e":0.8},{"t":40.33,"a":14.9,"e":0.55},{"t":40.44,"a":15.7,"e":0.55},{"t":40.56,"a":13.4,"e":0.55},{"t":40.67,"a":18.1,"e":0.8},{"t":40.78,"a":18.6,"e":0.55},{"t":40.89,"a":16.8,"e":0.55},{"t":41.0,"a":17.4,"e":0.55},{"t":41.11,"a":12.9,"e":0.55},{"t":40.89,"a":22.0,"e":0.55},{"t":41.0,"a":21.2,"e":0.55},{"t":41.18,"a":20.7,"e":0.55},{"t":40.6,"a":29.5,"e":0.55},{"t":41.44,"a":16.2,"e":0.55},{"t":41.62,"a":14.9,"e":0.55},{"t":41.67,"a":17.5,"e":0.55},{"t":41.78,"a":15.1,"e":0.55},{"t":41.67,"a":27.3,"e":0.55},{"t":43.27,"a":40.2,"e":0.55},{"t":43.62,"a":35.7,"e":0.55},{"t":43.71,"a":35.0,"e":0.55},{"t":43.71,"a":31.9,"e":0.55},{"t":44.0,"a":40.9,"e":0.55},{"t":44.22,"a":40.8,"e":0.55},{"t":44.78,"a":40.8,"e":0.55},{"t":44.89,"a":40.9,"e":0.55},{"t":45.44,"a":41.5,"e":0.55},{"t":45.0,"a":19.9,"e":0.3},{"t":44.96,"a":26.9,"e":0.55},{"t":45.18,"a":26.1,"e":0.55},{"t":45.56,"a":26.9,"e":0.55},{"t":45.33,"a":29.2,"e":0.55},{"t":45.67,"a":31.4,"e":0.55},{"t":45.78,"a":31.6,"e":0.55},{"t":45.89,"a":32.9,"e":0.55},{"t":45.93,"a":33.9,"e":0.55},{"t":46.0,"a":35.5,"e":0.55},{"t":46.07,"a":34.4,"e":0.55},{"t":46.11,"a":33.4,"e":0.55},{"t":46.22,"a":36.5,"e":0.55},{"t":46.29,"a":38.1,"e":0.55},{"t":46.44,"a":38.7,"e":0.55},{"t":46.56,"a":37.3,"e":0.55},{"t":46.67,"a":39.1,"e":0.55},{"t":46.73,"a":35.2,"e":0.55},{"t":46.89,"a":36.0,"e":0.55},{"t":47.0,"a":35.1,"e":0.55},{"t":47.11,"a":36.5,"e":0.55},{"t":47.22,"a":36.0,"e":0.55},{"t":47.33,"a":37.0,"e":0.55},{"t":47.4,"a":37.8,"e":0.55},{"t":47.44,"a":39.1,"e":0.55},{"t":47.56,"a":39.6,"e":0.55},{"t":47.67,"a":39.9,"e":0.55},{"t":47.78,"a":39.4,"e":0.55},{"t":47.89,"a":35.2,"e":0.55},{"t":48.0,"a":33.1,"e":0.55},{"t":48.07,"a":39.1,"e":0.55},{"t":48.16,"a":39.6,"e":0.55},{"t":48.24,"a":39.2,"e":0.55},{"t":48.33,"a":38.9,"e":0.55},{"t":48.44,"a":37.8,"e":0.55},{"t":48.56,"a":40.3,"e":0.55},{"t":48.67,"a":37.6,"e":0.55},{"t":48.78,"a":38.9,"e":0.55},{"t":48.89,"a":38.6,"e":0.55},{"t":49.0,"a":39.1,"e":0.55},{"t":49.22,"a":37.3,"e":0.55},{"t":49.33,"a":39.6,"e":0.55},{"t":49.44,"a":40.4,"e":0.55},{"t":49.56,"a":39.9,"e":0.55},{"t":49.67,"a":40.2,"e":0.55},{"t":49.78,"a":38.1,"e":0.55},{"t":49.89,"a":39.9,"e":0.55},{"t":50.0,"a":40.3,"e":0.55},{"t":50.11,"a":40.7,"e":0.55},{"t":50.29,"a":40.3,"e":0.55},{"t":50.44,"a":40.2,"e":0.55},{"t":50.6,"a":39.2,"e":0.55},{"t":50.78,"a":37.8,"e":0.55},{"t":51.0,"a":39.6,"e":0.55},{"t":51.11,"a":39.9,"e":0.55},{"t":51.27,"a":36.8,"e":0.55},{"t":51.67,"a":39.4,"e":0.55},
      {"t":51.56,"a":39.1,"e":0.55},{"t":51.78,"a":39.9,"e":0.55},{"t":51.89,"a":39.6,"e":0.55},{"t":52.0,"a":39.4,"e":0.55},{"t":52.11,"a":39.1,"e":0.55},{"t":52.22,"a":38.7,"e":0.55},{"t":52.33,"a":39.1,"e":0.55},{"t":52.44,"a":38.6,"e":0.55},{"t":52.56,"a":37.8,"e":0.55},{"t":52.67,"a":38.1,"e":0.55},{"t":52.78,"a":37.6,"e":0.55},{"t":52.89,"a":37.0,"e":0.55},{"t":53.0,"a":36.5,"e":0.55},{"t":53.11,"a":37.8,"e":0.55},{"t":53.22,"a":37.8,"e":0.55},{"t":53.33,"a":38.3,"e":0.55},{"t":53.44,"a":38.1,"e":0.55},{"t":53.56,"a":38.9,"e":0.55},{"t":52.11,"a":37.5,"e":0.55},{"t":52.22,"a":36.3,"e":0.55},{"t":52.44,"a":36.0,"e":0.55},{"t":52.56,"a":36.0,"e":0.55},{"t":52.67,"a":35.7,"e":0.55},{"t":52.78,"a":37.0,"e":0.55},{"t":52.89,"a":35.6,"e":0.55},{"t":53.22,"a":33.3,"e":0.55},{"t":53.67,"a":34.2,"e":0.55},{"t":53.78,"a":30.3,"e":0.55},{"t":53.89,"a":31.1,"e":0.55},{"t":54.0,"a":30.5,"e":0.55},{"t":53.78,"a":28.7,"e":0.55},{"t":54.33,"a":35.2,"e":0.55},{"t":54.44,"a":35.0,"e":0.55},{"t":54.56,"a":32.6,"e":0.55},{"t":54.67,"a":29.2,"e":0.55},{"t":54.78,"a":31.9,"e":0.55},{"t":54.89,"a":27.2,"e":0.55},{"t":55.0,"a":26.6,"e":0.55},{"t":55.11,"a":26.9,"e":0.55},{"t":55.0,"a":25.1,"e":0.55},{"t":54.22,"a":26.4,"e":0.55},{"t":54.0,"a":24.6,"e":0.55},{"t":54.22,"a":25.0,"e":0.55},{"t":54.73,"a":21.4,"e":0.55},{"t":55.11,"a":22.5,"e":0.55},{"t":55.33,"a":24.3,"e":0.55},{"t":55.44,"a":24.0,"e":0.55},{"t":55.56,"a":23.0,"e":0.55},{"t":55.78,"a":23.8,"e":0.55},{"t":55.89,"a":23.0,"e":0.55},{"t":56.0,"a":23.5,"e":0.55},{"t":56.11,"a":20.1,"e":0.55},{"t":55.44,"a":19.9,"e":0.55},{"t":55.56,"a":19.1,"e":0.55},{"t":55.67,"a":16.5,"e":0.55},{"t":55.89,"a":17.3,"e":0.55},{"t":56.11,"a":16.8,"e":0.55},{"t":56.22,"a":16.5,"e":0.55},{"t":56.22,"a":14.9,"e":0.55},{"t":56.56,"a":37.8,"e":0.55},{"t":57.0,"a":38.9,"e":0.55},{"t":57.33,"a":38.3,"e":0.55},{"t":57.67,"a":40.7,"e":0.55},{"t":58.07,"a":28.7,"e":0.55},{"t":58.38,"a":23.9,"e":0.55},{"t":58.44,"a":23.3,"e":0.55},{"t":58.56,"a":20.9,"e":0.55},{"t":58.67,"a":23.0,"e":0.55},{"t":58.78,"a":22.7,"e":0.55},{"t":58.89,"a":23.3,"e":0.55},{"t":59.0,"a":25.1,"e":0.55},{"t":59.11,"a":18.1,"e":0.55},{"t":59.22,"a":13.9,"e":0.55},{"t":59.33,"a":14.2,"e":0.55},{"t":59.44,"a":15.7,"e":0.55},{"t":59.56,"a":27.7,"e":0.55},{"t":59.67,"a":25.1,"e":0.55},{"t":58.11,"a":20.1,"e":0.55},{"t":58.29,"a":18.3,"e":0.8},{"t":58.51,"a":17.5,"e":0.55},{"t":58.73,"a":19.1,"e":0.55},{"t":59.0,"a":18.6,"e":0.55},{"t":59.18,"a":17.8,"e":0.55},{"t":59.44,"a":19.4,"e":0.55},{"t":59.67,"a":19.4,"e":0.55},{"t":59.89,"a":19.6,"e":0.55},{"t":60.0,"a":20.1,"e":0.55},{"t":60.11,"a":21.2,"e":0.55},{"t":59.93,"a":16.8,"e":0.55},{"t":60.0,"a":11.3,"e":0.55},{"t":60.22,"a":16.2,"e":0.55},{"t":60.33,"a":17.3,"e":0.55},{"t":60.44,"a":18.3,"e":0.55},{"t":60.51,"a":10.8,"e":0.55},{"t":60.56,"a":9.8,"e":0.55},{"t":60.67,"a":10.0,"e":0.55},{"t":60.78,"a":16.8,"e":0.55},{"t":60.89,"a":14.2,"e":0.55},{"t":60.96,"a":13.1,"e":0.55},{"t":61.11,"a":16.5,"e":0.55},{"t":61.22,"a":16.0,"e":0.55},{"t":61.33,"a":15.7,"e":0.55},{"t":61.33,"a":20.7,"e":0.55},{"t":61.44,"a":15.5,"e":0.55},{"t":61.56,"a":16.0,"e":0.55},{"t":61.67,"a":14.9,"e":0.55},{"t":61.78,"a":10.0,"e":0.55},{"t":61.89,"a":16.2,"e":0.55},{"t":62.0,"a":17.5,"e":0.55},{"t":62.11,"a":14.7,"e":0.55},{"t":62.22,"a":15.5,"e":0.55},{"t":62.29,"a":19.6,"e":0.55},{"t":62.33,"a":17.8,"e":0.55},{"t":62.44,"a":13.4,"e":0.55},{"t":62.56,"a":13.9,"e":0.55},{"t":62.67,"a":13.1,"e":0.55},{"t":62.78,"a":17.0,"e":0.55},{"t":62.89,"a":16.5,"e":0.55},{"t":63.0,"a":13.1,"e":0.55},{"t":63.04,"a":15.7,"e":0.55},{"t":63.11,"a":14.4,"e":0.55},{"t":63.22,"a":9.8,"e":0.55},{"t":63.33,"a":9.2,"e":0.55},{"t":63.44,"a":16.5,"e":0.55},{"t":63.56,"a":30.3,"e":0.55},{"t":63.62,"a":21.7,"e":0.55},{"t":63.78,"a":21.4,"e":0.55},{"t":63.89,"a":17.0,"e":0.55},{"t":63.89,"a":18.3,"e":0.55},{"t":64.0,"a":16.0,"e":0.55},{"t":64.11,"a":23.3,"e":0.3},{"t":64.22,"a":18.8,"e":0.8},{"t":64.33,"a":15.1,"e":0.55},{"t":64.44,"a":15.7,"e":0.55},{"t":64.56,"a":16.0,"e":0.55},{"t":64.67,"a":15.5,"e":0.55},{"t":64.78,"a":18.6,"e":0.8},{"t":64.89,"a":15.5,"e":0.55},{"t":65.0,"a":7.9,"e":0.55},{"t":65.11,"a":17.5,"e":0.55},{"t":65.22,"a":14.2,"e":0.3},{"t":65.33,"a":12.6,"e":0.55},{"t":65.33,"a":23.3,"e":0.55},{"t":65.44,"a":22.6,"e":0.55},{"t":65.56,"a":21.2,"e":0.55},{"t":65.67,"a":29.2,"e":0.55},{"t":65.78,"a":27.9,"e":0.55},{"t":65.89,"a":25.9,"e":0.55},{"t":65.93,"a":20.7,"e":0.55},{"t":66.0,"a":20.4,"e":0.55},{"t":66.11,"a":20.1,"e":0.55},{"t":66.22,"a":13.4,"e":0.55},{"t":66.29,"a":14.7,"e":0.55},{"t":66.38,"a":17.8,"e":0.8},{"t":66.51,"a":21.2,"e":0.3},{"t":66.6,"a":31.6,"e":0.55},{"t":66.67,"a":30.3,"e":0.55},{"t":67.0,"a":35.2,"e":0.55},{"t":67.11,"a":23.8,"e":0.55},{"t":67.22,"a":25.1,"e":0.55},{"t":67.33,"a":21.4,"e":0.55},{"t":67.44,"a":29.2,"e":0.55},{"t":67.56,"a":33.3,"e":0.55},{"t":67.67,"a":39.9,"e":0.55},{"t":67.78,"a":39.4,"e":0.55},{"t":67.89,"a":38.9,"e":0.55},{"t":68.0,"a":38.6,"e":0.55},{"t":67.89,"a":36.8,"e":0.55},{"t":68.07,"a":36.3,"e":0.55},{"t":68.22,"a":36.0,"e":0.55},{"t":68.33,"a":35.7,"e":0.55},{"t":68.44,"a":36.3,"e":0.55},{"t":68.0,"a":22.5,"e":0.55}
    ]
  },
  "layer": [
    {
      "data": {"name": "noEcho"},
      "mark": {"type": "rule", "color": "#1a1aff", "strokeWidth": 2.5},
      "encoding": {
        "x": {
          "field": "t0", "type": "quantitative",
          "scale": {"domain": [0, 69], "nice": false, "zero": false},
          "axis": {
            "orient": "top", "title": null, "labels": false, "domain": false, "grid": false,
            "values": [0.5,1,1.5,2.5,3,3.5,4.5,5,5.5,6.5,7,7.5,8.5,9,9.5,10.5,11,11.5,12.5,13,13.5,14.5,15,15.5,16.5,17,17.5,18.5,19,19.5,20.5,21,21.5,22.5,23,23.5,24.5,25,25.5,26.5,27,27.5,28.5,29,29.5,30.5,31,31.5,32.5,33,33.5,34.5,35,35.5,36.5,37,37.5,38.5,39,39.5,40.5,41,41.5,42.5,43,43.5,44.5,45,45.5,46.5,47,47.5,48.5,49,49.5,50.5,51,51.5,52.5,53,53.5,54.5,55,55.5,56.5,57,57.5,58.5,59,59.5,60.5,61,61.5,62.5,63,63.5,64.5,65,65.5,66.5,67,67.5,68.5],
            "tickSize": -4, "tickColor": "#000000", "tickWidth": 1.2
          }
        },
        "x2": {"field": "t1"},
        "y": {
          "field": "h", "type": "quantitative",
          "scale": {"domain": [0, 140], "nice": false, "zero": false},
          "axis": {
            "orient": "right", "title": null, "labels": false, "domain": false, "grid": false,
            "values": [10, 30, 50, 70, 90, 110, 130],
            "tickSize": 4, "tickColor": "#1515ff", "tickWidth": 1.2
          }
        }
      }
    },
    {
      "data": {"name": "atten"},
      "mark": {
        "type": "errorbar", "color": "#000000",
        "ticks": {"size": 7, "thickness": 1},
        "rule": {"strokeWidth": 1}
      },
      "encoding": {
        "x": {
          "field": "t", "type": "quantitative",
          "scale": {"domain": [0, 69], "nice": false, "zero": false},
          "axis": {
            "orient": "bottom",
            "values": [0,2,4,6,8,10,12,14,16,18,20,22,24,26,28,30,32,34,36,38,40,42,44,46,48,50,52,54,56,58,60,62,64,66,68],
            "labelExpr": "(floor(8 + datum.value) % 24 < 10 ? '0' : '') + (floor(8 + datum.value) % 24) + ':49'",
            "labelAngle": 270, "labelAlign": "right", "labelBaseline": "middle",
            "labelFont": "Liberation Sans", "labelFontSize": 17, "labelColor": "#000000",
            "labelPadding": 4, "labelOverlap": false, "labelFlush": false,
            "tickSize": 7, "tickColor": "#000000", "tickWidth": 1.5,
            "domainColor": "#000000", "domainWidth": 1.5,
            "grid": true, "gridColor": "#a8a8a8", "gridWidth": 1.2,
            "title": "Universal time", "titleFont": "Open Sans", "titleFontSize": 18,
            "titleFontWeight": "normal", "titleColor": "#000000", "titlePadding": 7
          }
        },
        "y": {
          "field": "a", "type": "quantitative",
          "scale": {"domain": [0, 70], "nice": false, "zero": false},
          "axis": {
            "orient": "left", "values": [0, 10, 20, 30, 40, 50, 60, 70],
            "labelFont": "Liberation Sans", "labelFontSize": 16, "labelColor": "#000000",
            "labelPadding": 5,
            "tickSize": 7, "tickColor": "#000000", "tickWidth": 1.5,
            "domainColor": "#000000", "domainWidth": 1.5,
            "grid": true, "gridColor": "#a8a8a8", "gridWidth": 1.2,
            "title": "Attenuation (dB)", "titleFont": "Open Sans", "titleFontSize": 18,
            "titleFontWeight": "normal", "titleColor": "#000000", "titlePadding": 10
          }
        },
        "yError": {"field": "e"}
      }
    },
    {
      "data": {"name": "atten"},
      "mark": {"type": "point", "shape": "square", "filled": true, "size": 8, "color": "#000000", "opacity": 1},
      "encoding": {
        "x": {
          "field": "t", "type": "quantitative",
          "scale": {"domain": [0, 69], "nice": false, "zero": false},
          "axis": {
            "orient": "bottom", "title": null, "labels": false, "domain": false,
            "values": [0.5,1,1.5,2.5,3,3.5,4.5,5,5.5,6.5,7,7.5,8.5,9,9.5,10.5,11,11.5,12.5,13,13.5,14.5,15,15.5,16.5,17,17.5,18.5,19,19.5,20.5,21,21.5,22.5,23,23.5,24.5,25,25.5,26.5,27,27.5,28.5,29,29.5,30.5,31,31.5,32.5,33,33.5,34.5,35,35.5,36.5,37,37.5,38.5,39,39.5,40.5,41,41.5,42.5,43,43.5,44.5,45,45.5,46.5,47,47.5,48.5,49,49.5,50.5,51,51.5,52.5,53,53.5,54.5,55,55.5,56.5,57,57.5,58.5,59,59.5,60.5,61,61.5,62.5,63,63.5,64.5,65,65.5,66.5,67,67.5,68.5],
            "tickSize": 4, "tickColor": "#000000", "tickWidth": 1.2,
            "grid": true, "gridColor": "#d4d4d4", "gridDash": [2, 2], "gridWidth": 1
          }
        },
        "y": {
          "field": "a", "type": "quantitative",
          "scale": {"domain": [0, 70], "nice": false, "zero": false},
          "axis": {
            "orient": "left", "title": null, "labels": false, "domain": false, "grid": false,
            "values": [5, 15, 25, 35, 45, 55, 65],
            "tickSize": 4, "tickColor": "#000000", "tickWidth": 1.2
          }
        }
      }
    },
    {
      "data": {"name": "height"},
      "mark": {"type": "point", "shape": "square", "filled": true, "size": 10, "color": "#1a1aff", "opacity": 1},
      "encoding": {
        "x": {
          "field": "t", "type": "quantitative",
          "scale": {"domain": [0, 69], "nice": false, "zero": false},
          "axis": {
            "orient": "top", "title": null, "labels": false, "grid": false,
            "values": [0,2,4,6,8,10,12,14,16,18,20,22,24,26,28,30,32,34,36,38,40,42,44,46,48,50,52,54,56,58,60,62,64,66,68],
            "tickSize": -7, "tickColor": "#000000", "tickWidth": 1.5,
            "domainColor": "#000000", "domainWidth": 1.5
          }
        },
        "y": {
          "field": "h", "type": "quantitative",
          "scale": {"domain": [0, 140], "nice": false, "zero": false},
          "axis": {
            "orient": "right", "values": [0, 20, 40, 60, 80, 100, 120, 140],
            "labelFont": "Liberation Sans", "labelFontSize": 16, "labelColor": "#1515ff",
            "labelPadding": 5,
            "tickSize": 7, "tickColor": "#1515ff", "tickWidth": 1.5,
            "domainColor": "#1515ff", "domainWidth": 1.5, "grid": false,
            "title": "Height (km)", "titleFont": "Open Sans", "titleFontSize": 18,
            "titleFontWeight": "normal", "titleColor": "#1515ff", "titleAngle": 270,
            "titleBaseline": "top", "titlePadding": 6
          }
        }
      }
    },
    {
      "data": {"name": "marks"},
      "mark": {"type": "rule", "strokeWidth": 2},
      "encoding": {
        "x": {
          "field": "t", "type": "quantitative",
          "scale": {"domain": [0, 69], "nice": false, "zero": false},
          "axis": null
        },
        "color": {
          "field": "kind", "type": "nominal",
          "scale": {"domain": ["dark", "light"], "range": ["#1c1ca6", "#2ee6f2"]},
          "legend": null
        }
      }
    }
  ],
  "resolve": {
    "scale": {"y": "independent"},
    "axis": {"x": "independent", "y": "independent"}
  }
}
